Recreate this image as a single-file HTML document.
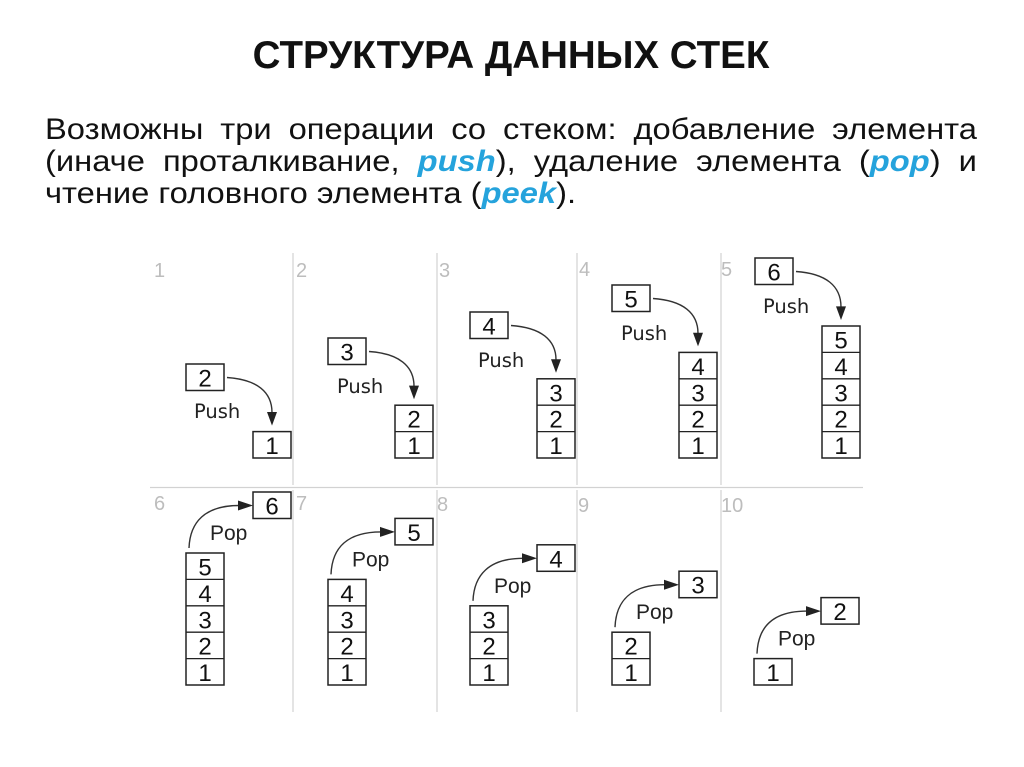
<!DOCTYPE html>
<html>
<head>
<meta charset="utf-8">
<style>
html,body{margin:0;padding:0;background:#fff;}
body{width:1024px;height:767px;position:relative;overflow:hidden;}
.para{position:absolute;left:45px;top:113.5px;width:855px;font-family:"Liberation Sans","DejaVu Sans",sans-serif;font-size:30px;line-height:32px;color:#111;transform:scaleX(1.09);transform-origin:0 0;}
.para div{white-space:nowrap;}
.j{text-align:justify;text-align-last:justify;}
.b{color:#25a3dc;font-weight:bold;font-style:italic;}
svg{position:absolute;left:0;top:0;}
</style>
</head>
<body>
<svg width="1024" height="767" viewBox="0 0 1024 767" xmlns="http://www.w3.org/2000/svg">
  <text x="511" y="68" text-anchor="middle" font-family="Liberation Sans, sans-serif" font-weight="bold" font-size="38.5" fill="#111">СТРУКТУРА ДАННЫХ СТЕК</text>

  <g stroke="#d2d2d2" stroke-width="1.2">
    <line x1="150" y1="487.5" x2="863" y2="487.5"/>
    <line x1="293" y1="253" x2="293" y2="485"/>
    <line x1="437" y1="253" x2="437" y2="485"/>
    <line x1="577" y1="253" x2="577" y2="485"/>
    <line x1="721" y1="253" x2="721" y2="485"/>
    <line x1="293" y1="490" x2="293" y2="712"/>
    <line x1="437" y1="490" x2="437" y2="712"/>
    <line x1="577" y1="490" x2="577" y2="712"/>
    <line x1="721" y1="490" x2="721" y2="712"/>
  </g>

  <g font-family="Liberation Sans, sans-serif" font-size="20" fill="#bdbdbd">
    <text x="154" y="277">1</text>
    <text x="296" y="277">2</text>
    <text x="439" y="277">3</text>
    <text x="579" y="276">4</text>
    <text x="721" y="276">5</text>
    <text x="154" y="510">6</text>
    <text x="296" y="510">7</text>
    <text x="437" y="511">8</text>
    <text x="578" y="512">9</text>
    <text x="721" y="512">10</text>
  </g>

  <g fill="#fff" stroke="#222" stroke-width="1.5">
    <rect x="186" y="364" width="38" height="26.5"/>
    <rect x="328" y="338" width="38" height="26.5"/>
    <rect x="470" y="312" width="38" height="26.5"/>
    <rect x="612" y="285" width="38" height="26.5"/>
    <rect x="755" y="258" width="38" height="26.5"/>
    <rect x="253" y="431.6" width="38" height="26.4"/>
    <rect x="395" y="405.2" width="38" height="52.8"/>
    <rect x="537" y="378.8" width="38" height="79.2"/>
    <rect x="679" y="352.4" width="38" height="105.6"/>
    <rect x="822" y="326" width="38" height="132"/>
    <rect x="253" y="492" width="38" height="26.5"/>
    <rect x="395" y="518.4" width="38" height="26.5"/>
    <rect x="537" y="544.8" width="38" height="26.5"/>
    <rect x="679" y="571.2" width="38" height="26.5"/>
    <rect x="821" y="597.6" width="38" height="26.5"/>
    <rect x="186" y="553" width="38" height="132"/>
    <rect x="328" y="579.4" width="38" height="105.6"/>
    <rect x="470" y="605.8" width="38" height="79.2"/>
    <rect x="612" y="632.2" width="38" height="52.8"/>
    <rect x="754" y="658.6" width="38" height="26.4"/>
  </g>
  <g stroke="#222" stroke-width="1.3">
    <line x1="395" y1="431.6" x2="433" y2="431.6"/>
    <line x1="537" y1="405.2" x2="575" y2="405.2"/>
    <line x1="537" y1="431.6" x2="575" y2="431.6"/>
    <line x1="679" y1="378.8" x2="717" y2="378.8"/>
    <line x1="679" y1="405.2" x2="717" y2="405.2"/>
    <line x1="679" y1="431.6" x2="717" y2="431.6"/>
    <line x1="822" y1="352.4" x2="860" y2="352.4"/>
    <line x1="822" y1="378.8" x2="860" y2="378.8"/>
    <line x1="822" y1="405.2" x2="860" y2="405.2"/>
    <line x1="822" y1="431.6" x2="860" y2="431.6"/>
    <line x1="186" y1="579.4" x2="224" y2="579.4"/>
    <line x1="186" y1="605.8" x2="224" y2="605.8"/>
    <line x1="186" y1="632.2" x2="224" y2="632.2"/>
    <line x1="186" y1="658.6" x2="224" y2="658.6"/>
    <line x1="328" y1="605.8" x2="366" y2="605.8"/>
    <line x1="328" y1="632.2" x2="366" y2="632.2"/>
    <line x1="328" y1="658.6" x2="366" y2="658.6"/>
    <line x1="470" y1="632.2" x2="508" y2="632.2"/>
    <line x1="470" y1="658.6" x2="508" y2="658.6"/>
    <line x1="612" y1="658.6" x2="650" y2="658.6"/>
  </g>

  <g font-family="Liberation Sans, sans-serif" font-size="24" fill="#111" text-anchor="middle">
    <text x="205" y="386.5">2</text>
    <text x="347" y="360.5">3</text>
    <text x="489" y="334.5">4</text>
    <text x="631" y="307.5">5</text>
    <text x="774" y="280.5">6</text>

    <text x="272" y="454">1</text>
    <text x="414" y="427.7">2</text>
    <text x="414" y="454">1</text>
    <text x="556" y="401.3">3</text>
    <text x="556" y="427.7">2</text>
    <text x="556" y="454">1</text>
    <text x="698" y="374.9">4</text>
    <text x="698" y="401.3">3</text>
    <text x="698" y="427.7">2</text>
    <text x="698" y="454">1</text>
    <text x="841" y="348.5">5</text>
    <text x="841" y="374.9">4</text>
    <text x="841" y="401.3">3</text>
    <text x="841" y="427.7">2</text>
    <text x="841" y="454">1</text>

    <text x="272" y="514.5">6</text>
    <text x="414" y="540.9">5</text>
    <text x="556" y="567.3">4</text>
    <text x="698" y="593.7">3</text>
    <text x="840" y="620.1">2</text>

    <text x="205" y="575.5">5</text>
    <text x="205" y="601.9">4</text>
    <text x="205" y="628.3">3</text>
    <text x="205" y="654.7">2</text>
    <text x="205" y="681">1</text>
    <text x="347" y="601.9">4</text>
    <text x="347" y="628.3">3</text>
    <text x="347" y="654.7">2</text>
    <text x="347" y="681">1</text>
    <text x="489" y="628.3">3</text>
    <text x="489" y="654.7">2</text>
    <text x="489" y="681">1</text>
    <text x="631" y="654.7">2</text>
    <text x="631" y="681">1</text>
    <text x="773" y="681">1</text>
  </g>

  <g font-family="DejaVu Sans, sans-serif" font-size="19.5" fill="#222">
    <text x="194" y="418">Push</text>
    <text x="337" y="393">Push</text>
    <text x="478" y="367">Push</text>
    <text x="621" y="340">Push</text>
    <text x="763" y="313">Push</text>
  </g>
  <g font-family="Liberation Sans, sans-serif" font-size="21" fill="#222">
    <text x="210" y="540">Pop</text>
    <text x="352" y="566.4">Pop</text>
    <text x="494" y="592.8">Pop</text>
    <text x="636" y="619.2">Pop</text>
    <text x="778" y="645.6">Pop</text>
  </g>

  <g fill="none" stroke="#333" stroke-width="1.4">
    <path d="M227 377.5 C257 379.5 272 392 272 412.6"/>
    <path d="M369 351.5 C399 353.5 414 366 414 386.2"/>
    <path d="M511 325.5 C541 327.5 556 340 556 359.8"/>
    <path d="M653 298.5 C683 300.5 698 313 698 333.4"/>
    <path d="M796 271.5 C826 273.5 841 286 841 307"/>
  </g>
  <g fill="#222">
    <polygon points="267,412 277,412 272,425.6"/>
    <polygon points="409,385.6 419,385.6 414,399.2"/>
    <polygon points="551,359.2 561,359.2 556,372.8"/>
    <polygon points="693,332.8 703,332.8 698,346.4"/>
    <polygon points="836,306.4 846,306.4 841,320"/>
  </g>

  <g fill="none" stroke="#333" stroke-width="1.4">
    <path d="M189 548 C190 522 205 505.5 239 505.5"/>
    <path d="M331 574.4 C332 548 347 531.9 381 531.9"/>
    <path d="M473 600.8 C474 575 489 558.3 523 558.3"/>
    <path d="M615 627.2 C616 601 631 584.7 665 584.7"/>
    <path d="M757 653.6 C758 627 773 611.1 807 611.1"/>
  </g>
  <g fill="#222">
    <polygon points="238,500.5 238,510.5 253,505.5"/>
    <polygon points="380,526.9 380,536.9 395,531.9"/>
    <polygon points="522,553.3 522,563.3 537,558.3"/>
    <polygon points="664,579.7 664,589.7 679,584.7"/>
    <polygon points="806,606.1 806,616.1 821,611.1"/>
  </g>
</svg>

<div class="para">
  <div class="j">Возможны три операции со стеком: добавление элемента</div>
  <div class="j">(иначе проталкивание, <span class="b">push</span>), удаление элемента (<span class="b">pop</span>) и</div>
  <div>чтение головного элемента (<span class="b">peek</span>).</div>
</div>
</body>
</html>
